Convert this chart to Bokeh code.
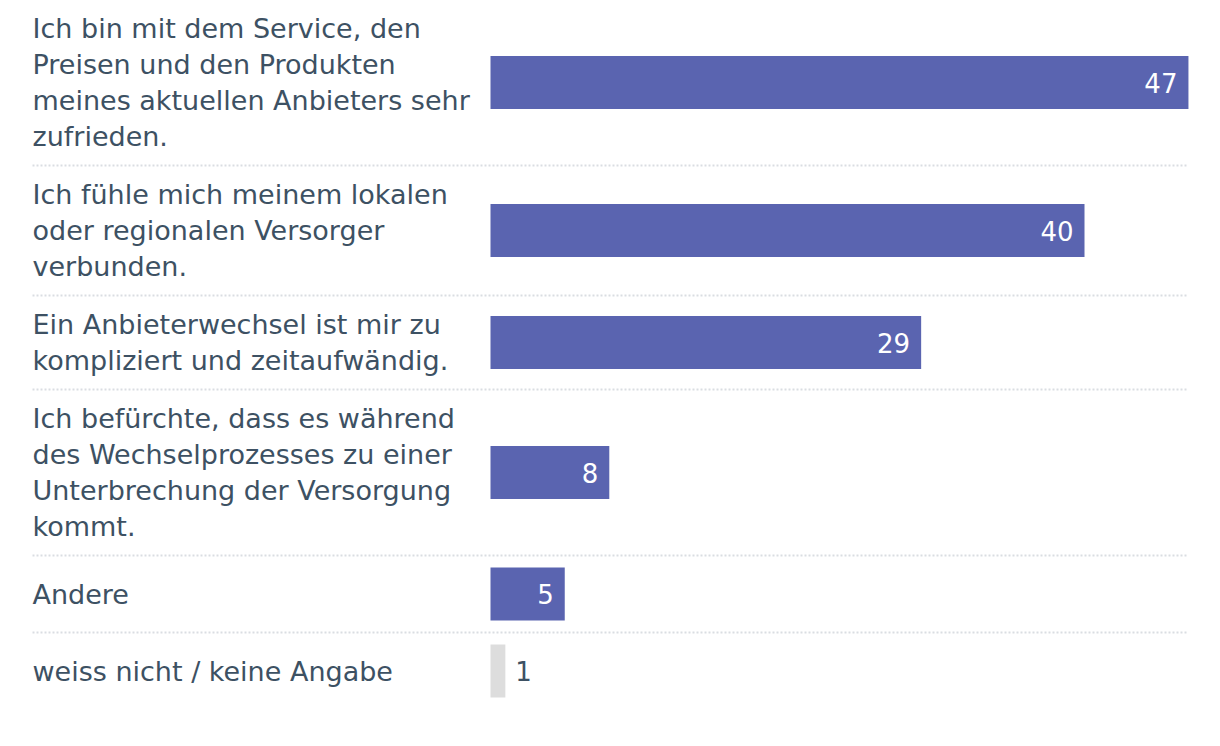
from bokeh.plotting import figure
from bokeh.models import Range1d
from bokeh.core.properties import value
from bokeh.embed import file_html
from bokeh.resources import INLINE

# ---- data ----
labels = [
    "Ich bin mit dem Service, den\nPreisen und den Produkten\nmeines aktuellen Anbieters sehr\nzufrieden.",
    "Ich fühle mich meinem lokalen\noder regionalen Versorger\nverbunden.",
    "Ein Anbieterwechsel ist mir zu\nkompliziert und zeitaufwändig.",
    "Ich befürchte, dass es während\ndes Wechselprozesses zu einer\nUnterbrechung der Versorgung\nkommt.",
    "Andere",
    "weiss nicht / keine Angabe",
]
values = [47, 40, 29, 8, 5, 1]
is_other = [False, False, False, False, False, True]

# ---- style / layout ----
FONT = "DejaVu Sans"
TEXT_COLOR = "#3d5163"
BAR_COLOR = "#5a64b0"
GREY_COLOR = "#dddddd"
SEP_COLOR = "#dadde2"
FONT_SIZE = "27px"
VAL_FONT_SIZE = "26px"
W, H = 1204, 730
LINE_H = 36
BAR_H = 53
PX_PER_UNIT = 14.85
BAR_LEFT_PAGE = 490   # px where value 0 is
LABEL_LEFT_PAGE = 32
SEP_RIGHT_PAGE = 1188

def page_x_to_val(px):
    return (px - BAR_LEFT_PAGE) / PX_PER_UNIT

p = figure(width=W, height=H, output_backend="svg", toolbar_location=None,
           x_range=Range1d(page_x_to_val(0), page_x_to_val(W)),
           y_range=Range1d(H, 0), min_border=0)
p.axis.visible = False
p.grid.visible = False
p.outline_line_color = None
p.background_fill_color = "white"
p.border_fill_color = "white"

# compute rows (y in px)
y = -1
row_centers, seps = [], []
line_x, line_y, line_t = [], [], []
for lab in labels:
    lines = lab.split("\n")
    h = max(len(lines) * LINE_H + 22, 77)
    c = y + h / 2
    row_centers.append(c)
    for i, t in enumerate(lines):
        line_x.append(page_x_to_val(LABEL_LEFT_PAGE))
        line_y.append(c - (len(lines) - 1) * LINE_H / 2 + i * LINE_H)
        line_t.append(t)
    y += h
    seps.append(y)
seps = seps[:-1]

# separators
for s in seps:
    p.line([page_x_to_val(LABEL_LEFT_PAGE), page_x_to_val(SEP_RIGHT_PAGE)], [s, s],
           line_color=SEP_COLOR, line_width=2, line_dash="2 2")

colors = [GREY_COLOR if o else BAR_COLOR for o in is_other]
p.hbar(y=row_centers, left=0, right=values, height=BAR_H, fill_color=colors,
       line_color=None)

p.text(x=line_x, y=line_y, text=line_t, text_font=value(FONT),
       text_font_size=FONT_SIZE, text_color=TEXT_COLOR,
       text_baseline="middle", text_align="left")

# value labels
in_x, in_y, in_t = [], [], []
out_x, out_y, out_t = [], [], []
for v, c, o in zip(values, row_centers, is_other):
    if o:
        out_x.append(v); out_y.append(c); out_t.append(str(v))
    else:
        in_x.append(v); in_y.append(c); in_t.append(str(v))
p.text(x=in_x, y=in_y, text=in_t, text_font=value(FONT), text_font_size=VAL_FONT_SIZE,
       text_color="white", text_baseline="middle", text_align="right", x_offset=-11)
p.text(x=out_x, y=out_y, text=out_t, text_font=value(FONT), text_font_size=VAL_FONT_SIZE,
       text_color=TEXT_COLOR, text_baseline="middle", text_align="left", x_offset=10)

open("out.html", "w").write(file_html(p, INLINE))
